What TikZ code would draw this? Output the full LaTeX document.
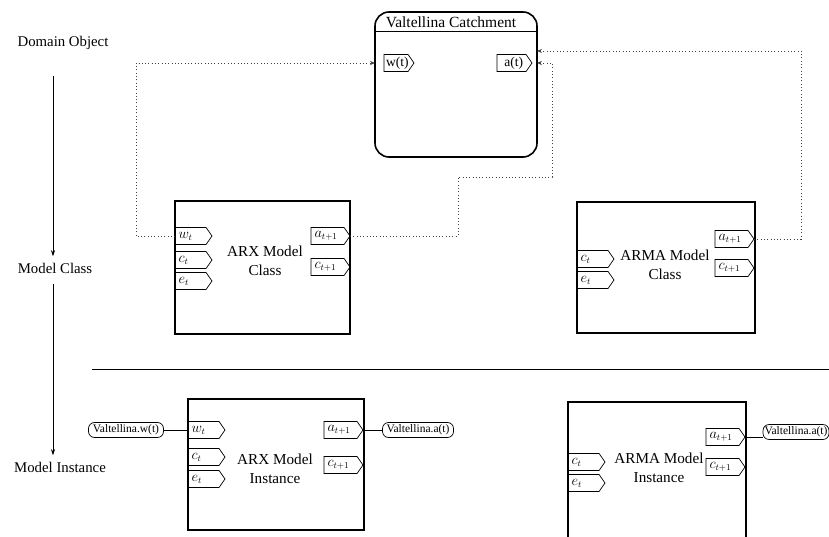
\documentclass[tikz,border=0pt]{standalone}
\usepackage{fontspec}
\setmainfont{Liberation Serif}
\usetikzlibrary{shapes.symbols,arrows.meta,calc}
\begin{document}
\begin{tikzpicture}[x=1pt,y=-1pt,
  side/.style={font=\fontsize{14.8}{17}\selectfont},
  title/.style={font=\fontsize{15.2}{19.5}\selectfont,align=center},
  mbox/.style={draw,line width=1.1pt,outer sep=0pt,inner sep=0pt,anchor=north west},
  port/.style={draw,line width=0.7pt,shape=signal,signal to=east,signal pointer angle=110,
    minimum height=17pt,inner sep=1pt,outer sep=0pt,font=\fontsize{13.5}{13.5}\selectfont},
  lport/.style={port,minimum width=37pt,anchor=west},
  rport/.style={port,minimum width=39pt,anchor=east},
  term/.style={draw,line width=0.7pt,rounded corners=6pt,minimum height=15pt,inner sep=1.5pt,
    outer sep=0pt,font=\fontsize{11.5}{11.5}\selectfont},
  conn/.style={line width=0.8pt,dash pattern=on 0.9pt off 2.4pt,black!75},
  tip/.style={-{Stealth[length=5pt,width=4pt]}},
  wire/.style={line width=0.8pt},
  flow/.style={line width=0.9pt,-{Stealth[length=6pt,width=4pt]}}
]
\useasboundingbox (0,0) rectangle (829,537);

% level labels
\node[side] (dom) at (63,43) {Domain Object};
\node[side] (mc) at (55,268) {Model Class};
\node[side] (mi) at (60,467) {Model Instance};
\coordinate (ax) at (53,0);
\draw[flow] ([yshift=-23pt]dom.south -| ax) -- ([yshift=3pt]mc.north -| ax);
\draw[flow] ([yshift=-7pt]mc.south -| ax) -- ([yshift=3pt]mi.north -| ax);

% separator
\draw[line width=1pt] (92,369) -- (829,369);

% catchment
\node[mbox,line width=1.6pt,rounded corners=14pt,minimum width=162pt,minimum height=145pt] (catch) at (375,12) {};
\node[title,font=\fontsize{15.5}{19}\selectfont] (ctitle) at (451,22) {Valtellina Catchment};
\draw[line width=0.9pt] ($(catch.north west)+(0,19)$) -- ($(catch.north east)+(0,19)$);
\node[lport,minimum width=30pt] (cw) at (384,63) {\makebox[20pt][l]{w(t)}};
\node[rport,minimum width=35pt] (ca) at (532,63) {\makebox[23pt][r]{a(t)}};

% ARX model class
\node[mbox,minimum width=175pt,minimum height=133pt] (axc) at (175,201) {};
\node[title] at (265,261) {ARX Model\\Class};
\node[lport] (axcw) at (175,236) {\makebox[24pt][l]{$w_t$}};
\node[lport] (axcc) at (175,260) {\makebox[24pt][l]{$c_t$}};
\node[lport] (axce) at (175,281) {\makebox[24pt][l]{$e_t$}};
\node[rport] (axca) at (350,236) {\makebox[26pt][l]{$a_{t+1}$}};
\node[rport] (axcd) at (350,267) {\makebox[26pt][l]{$c_{t+1}$}};

% ARMA model class
\node[mbox,minimum width=178pt,minimum height=131pt] (amc) at (577,202) {};
\node[title] at (665,265) {ARMA Model\\Class};
\node[lport] (amcc) at (577,259) {\makebox[24pt][l]{$c_t$}};
\node[lport] (amce) at (577,280) {\makebox[24pt][l]{$e_t$}};
\node[rport] (amca) at (754,239) {\makebox[26pt][l]{$a_{t+1}$}};
\node[rport] (amcd) at (754,268) {\makebox[26pt][l]{$c_{t+1}$}};

% ARX model instance
\node[mbox,minimum width=176pt,minimum height=131pt] (axi) at (188,399) {};
\node[title] at (275,469) {ARX Model\\Instance};
\node[lport] (axiw) at (188,430) {\makebox[24pt][l]{$w_t$}};
\node[lport] (axic) at (188,457) {\makebox[24pt][l]{$c_t$}};
\node[lport] (axie) at (188,479) {\makebox[24pt][l]{$e_t$}};
\node[rport] (axia) at (363,430) {\makebox[26pt][l]{$a_{t+1}$}};
\node[rport] (axid) at (363,465) {\makebox[26pt][l]{$c_{t+1}$}};

% ARMA model instance
\node[mbox,minimum width=178pt,minimum height=136pt] (ami) at (568,402) {};
\node[title] at (659,468) {ARMA Model\\Instance};
\node[lport] (amic) at (568,462) {\makebox[24pt][l]{$c_t$}};
\node[lport] (amie) at (568,483) {\makebox[24pt][l]{$e_t$}};
\node[rport] (amia) at (745,437) {\makebox[26pt][l]{$a_{t+1}$}};
\node[rport] (amid) at (745,467) {\makebox[26pt][l]{$c_{t+1}$}};

% terminals
\node[term,minimum width=75pt] (tw) at (126,430) {Valtellina.w(t)};
\node[term,minimum width=71pt] (ta) at (418,430) {Valtellina.a(t)};
\node[term,minimum width=65pt] (tb) at (796,432) {Valtellina.a(t)};

% instance wires
\draw[wire] (tw.east) -- (axiw.west);
\draw[wire] (axia.east) -- (ta.west);
\draw[wire] (amia.east) -- (amia.east -| tb.west);

% dotted connectors
\coordinate (k0) at (136,0);
\coordinate (k1) at (458,177);
\coordinate (k2) at (552,63);
\coordinate (k3) at (801,51);
\draw[conn,tip] (axcw.west) -| (k0 |- cw) -- (catch.west |- cw);
\draw[conn,tip] (axca.east) -| (k1) -| (k2) -- (catch.east |- k2);
\draw[conn,tip] (amca.east) -| (k3) -- (catch.east |- k3);
\end{tikzpicture}
\end{document}
